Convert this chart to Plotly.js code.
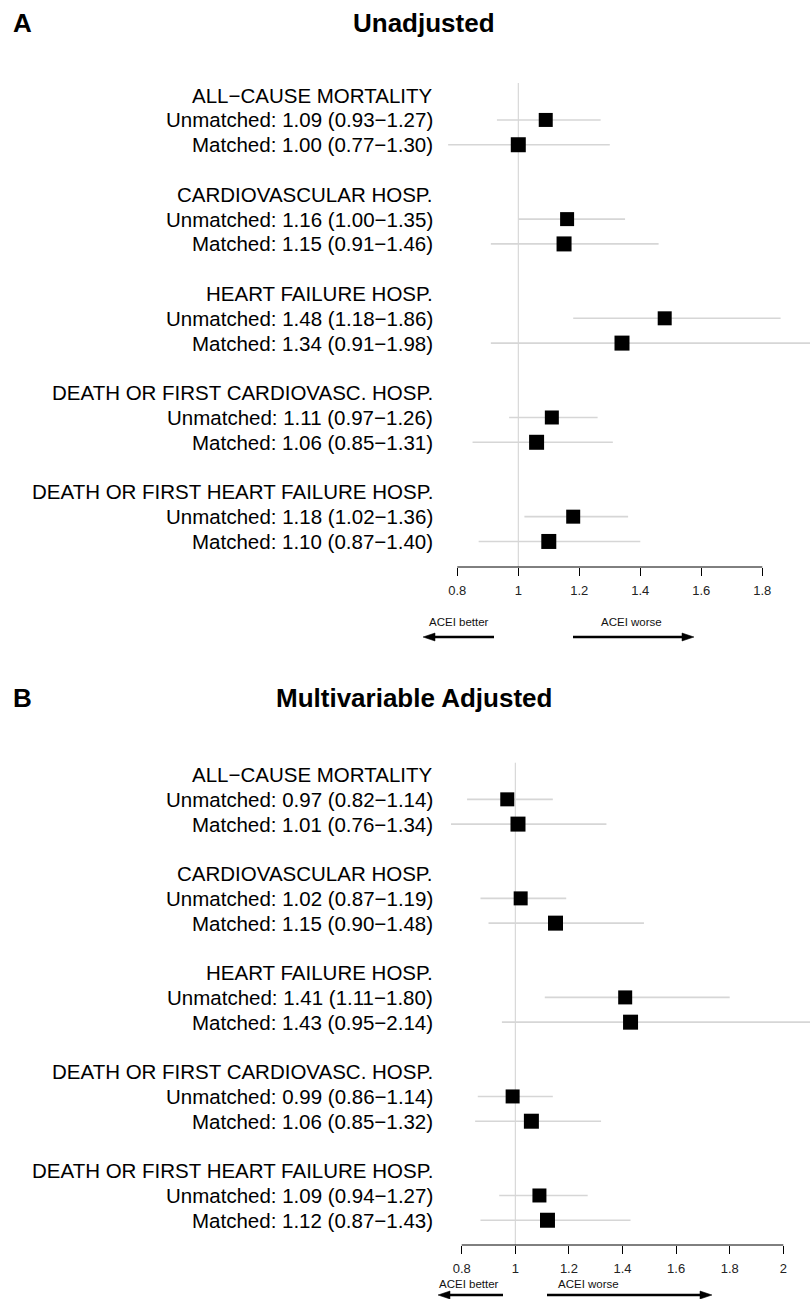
<!DOCTYPE html>
<html>
<head>
<meta charset="utf-8">
<script src="https://cdn.plot.ly/plotly-3.0.1.min.js"></script>
<style>html,body{margin:0;padding:0;background:#fff}#chart{width:810px;height:1299px}</style>
</head>
<body>
<div id="chart"></div>
<script>
// ---------- DATA ----------
const outcomes = ["ALL\u2212CAUSE MORTALITY", "CARDIOVASCULAR HOSP.", "HEART FAILURE HOSP.",
                  "DEATH OR FIRST CARDIOVASC. HOSP.", "DEATH OR FIRST HEART FAILURE HOSP."];

// Panel A: Unadjusted
const unadjUnmatchedHR = [1.09, 1.16, 1.48, 1.11, 1.18];
const unadjUnmatchedLo = [0.93, 1.00, 1.18, 0.97, 1.02];
const unadjUnmatchedHi = [1.27, 1.35, 1.86, 1.26, 1.36];
const unadjMatchedHR   = [1.00, 1.15, 1.34, 1.06, 1.10];
const unadjMatchedLo   = [0.77, 0.91, 0.91, 0.85, 0.87];
const unadjMatchedHi   = [1.30, 1.46, 1.98, 1.31, 1.40];

// Panel B: Multivariable adjusted
const adjUnmatchedHR = [0.97, 1.02, 1.41, 0.99, 1.09];
const adjUnmatchedLo = [0.82, 0.87, 1.11, 0.86, 0.94];
const adjUnmatchedHi = [1.14, 1.19, 1.80, 1.14, 1.27];
const adjMatchedHR   = [1.01, 1.15, 1.43, 1.06, 1.12];
const adjMatchedLo   = [0.76, 0.90, 0.95, 0.85, 0.87];
const adjMatchedHi   = [1.34, 1.48, 2.14, 1.32, 1.43];

const ticksA = [0.8, 1, 1.2, 1.4, 1.6, 1.8];
const ticksB = [0.8, 1, 1.2, 1.4, 1.6, 1.8, 2];

const panelLetters = ["A", "B"];
const panelTitles = ["Unadjusted", "Multivariable Adjusted"];
const betterLabel = "ACEI better";
const worseLabel = "ACEI worse";

// ---------- LAYOUT HELPERS ----------
const W = 810, H = 1299;
const PX = p => p / W;
const PY = p => 1 - p / H;
const FONT = "Liberation Sans, Arial, Helvetica, sans-serif";
const fmt = v => v.toFixed(2);
const ciText = (lbl, hr, lo, hi) => `${lbl}: ${fmt(hr)} (${fmt(lo)}\u2212${fmt(hi)})`;

const panels = [
  {hrU: unadjUnmatchedHR, loU: unadjUnmatchedLo, hiU: unadjUnmatchedHi,
   hrM: unadjMatchedHR, loM: unadjMatchedLo, hiM: unadjMatchedHi,
   ticks: ticksA, xa: "x", ya: "y",
   top: 83, bottom: 567, yr: [19.03, -0.49], xr: [0.7433, 1.9564],
   letterY: 23, titleX: 424, titleY: 23,
   textY: 622, arrowY: 637, better: [423, 494], worse: [573, 694], betterX: 459, worseX: 631},
  {hrU: adjUnmatchedHR, loU: adjUnmatchedLo, hiU: adjUnmatchedHi,
   hrM: adjMatchedHR, loM: adjMatchedLo, hiM: adjMatchedHi,
   ticks: ticksB, xa: "x2", ya: "y2",
   top: 762.7, bottom: 1245, yr: [19.0, -0.48], xr: [0.719, 2.0996],
   letterY: 698, titleX: 414, titleY: 698,
   textY: 1284, arrowY: 1295, better: [438, 503], worse: [547, 712], betterX: 469, worseX: 588}
];

const traces = [];
const annotations = [];
const shapes = [];
const layout = {
  width: W, height: H,
  margin: {l: 0, r: 0, t: 0, b: 0, pad: 0},
  paper_bgcolor: "#fff", plot_bgcolor: "#fff",
  showlegend: false,
  font: {family: FONT, color: "#000"}
};

panels.forEach((p, k) => {
  const rowsU = outcomes.map((_, i) => 4 * i + 1);
  const rowsM = outcomes.map((_, i) => 4 * i + 2);
  const rowsH = outcomes.map((_, i) => 4 * i);

  // CI lines
  const cx = [], cy = [];
  outcomes.forEach((_, i) => {
    cx.push(p.loU[i], p.hiU[i], null, p.loM[i], p.hiM[i], null);
    cy.push(rowsU[i], rowsU[i], null, rowsM[i], rowsM[i], null);
  });
  traces.push({x: cx, y: cy, xaxis: p.xa, yaxis: p.ya, type: "scatter", mode: "lines",
    line: {color: "#d6d6d6", width: 1.6}, hoverinfo: "skip"});
  traces.push({x: p.hrU, y: rowsU, xaxis: p.xa, yaxis: p.ya, type: "scatter", mode: "markers",
    marker: {symbol: "square", size: 14, color: "#000"}, cliponaxis: false});
  traces.push({x: p.hrM, y: rowsM, xaxis: p.xa, yaxis: p.ya, type: "scatter", mode: "markers",
    marker: {symbol: "square", size: 15, color: "#000"}, cliponaxis: false});

  const axX = k === 0 ? "xaxis" : "xaxis2";
  const axY = k === 0 ? "yaxis" : "yaxis2";
  layout[axX] = {
    domain: [PX(440), 1], range: p.xr, anchor: p.ya,
    tickmode: "array", tickvals: p.ticks, ticktext: p.ticks.map(String),
    ticks: "outside", ticklen: 8, tickwidth: 1, tickcolor: "#000",
    ticklabelstandoff: 3,
    showline: false, showgrid: false, zeroline: false,
    tickfont: {family: FONT, size: 13, color: "#222"}, fixedrange: true
  };
  layout[axY] = {
    domain: [PY(p.bottom), PY(p.top)], range: p.yr, anchor: p.xa,
    visible: false, showgrid: false, zeroline: false, fixedrange: true
  };

  // reference line at 1
  shapes.push({type: "line", xref: p.xa, yref: p.ya + " domain", x0: 1, x1: 1, y0: 0, y1: 1,
    line: {color: "#d0d0d0", width: 1}, layer: "below"});
  // axis line spanning tick range
  shapes.push({type: "line", xref: p.xa, yref: p.ya + " domain",
    x0: p.ticks[0], x1: p.ticks[p.ticks.length - 1], y0: 0, y1: 0,
    line: {color: "#000", width: 1}});

  // row labels
  outcomes.forEach((o, i) => {
    const lab = [[o, rowsH[i]],
                 [ciText("Unmatched", p.hrU[i], p.loU[i], p.hiU[i]), rowsU[i]],
                 [ciText("Matched", p.hrM[i], p.loM[i], p.hiM[i]), rowsM[i]]];
    lab.forEach(([t, r]) => annotations.push({
      text: t, xref: "paper", x: PX(435), xanchor: "right",
      yref: p.ya, y: r, yanchor: "middle", showarrow: false,
      font: {family: FONT, size: 20.5, color: "#000"}
    }));
  });

  // panel letter and title
  annotations.push({text: "<b>" + panelLetters[k] + "</b>", xref: "paper", yref: "paper",
    x: PX(11), y: PY(p.letterY), xanchor: "left", yanchor: "middle", showarrow: false,
    font: {family: FONT, size: 26, color: "#000"}});
  annotations.push({text: "<b>" + panelTitles[k] + "</b>", xref: "paper", yref: "paper",
    x: PX(p.titleX), y: PY(p.titleY), xanchor: "center", yanchor: "middle", showarrow: false,
    font: {family: FONT, size: 26, color: "#000"}});

  // direction labels
  annotations.push({text: betterLabel, xref: "paper", yref: "paper",
    x: PX(p.betterX), y: PY(p.textY), xanchor: "center", yanchor: "middle", showarrow: false,
    font: {family: FONT, size: 11.5, color: "#111"}});
  annotations.push({text: worseLabel, xref: "paper", yref: "paper",
    x: PX(p.worseX), y: PY(p.textY), xanchor: "center", yanchor: "middle", showarrow: false,
    font: {family: FONT, size: 11.5, color: "#111"}});

  // arrows (line + filled head)
  const head = 12, half = 4;
  const ay = p.arrowY;
  // better: points left
  shapes.push({type: "line", xref: "paper", yref: "paper",
    x0: PX(p.better[0] + head - 1), x1: PX(p.better[1]), y0: PY(ay), y1: PY(ay),
    line: {color: "#000", width: 2.5}});
  shapes.push({type: "path", xref: "paper", yref: "paper",
    path: `M ${PX(p.better[0])},${PY(ay)} L ${PX(p.better[0] + head)},${PY(ay - half)} L ${PX(p.better[0] + head)},${PY(ay + half)} Z`,
    fillcolor: "#000", line: {color: "#000", width: 0.5}});
  // worse: points right
  shapes.push({type: "line", xref: "paper", yref: "paper",
    x0: PX(p.worse[0]), x1: PX(p.worse[1] - head + 1), y0: PY(ay), y1: PY(ay),
    line: {color: "#000", width: 2.5}});
  shapes.push({type: "path", xref: "paper", yref: "paper",
    path: `M ${PX(p.worse[1])},${PY(ay)} L ${PX(p.worse[1] - head)},${PY(ay - half)} L ${PX(p.worse[1] - head)},${PY(ay + half)} Z`,
    fillcolor: "#000", line: {color: "#000", width: 0.5}});
});

layout.annotations = annotations;
layout.shapes = shapes;

Plotly.newPlot("chart", traces, layout, {displayModeBar: false, staticPlot: true});
</script>
</body>
</html>
